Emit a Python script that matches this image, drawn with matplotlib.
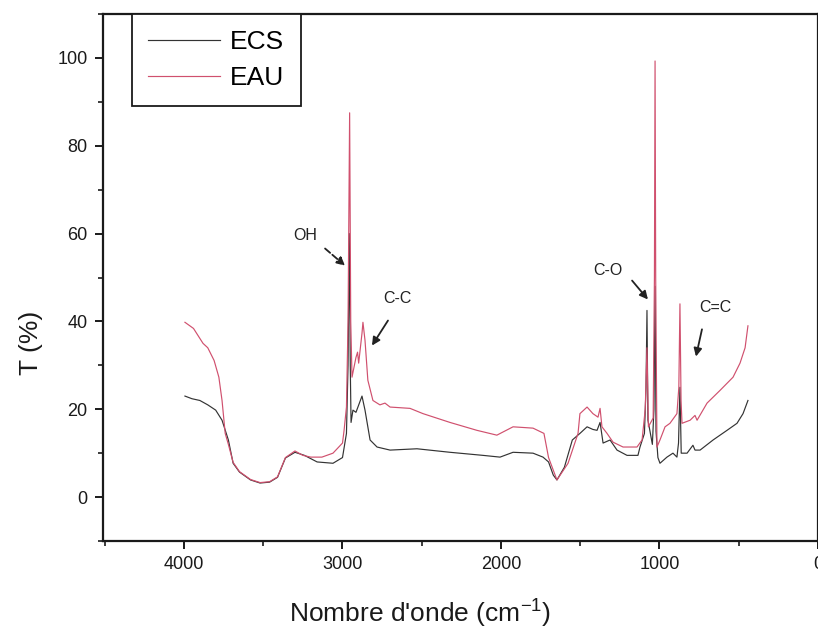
import numpy as np
import matplotlib
matplotlib.use('Agg')
import matplotlib.pyplot as plt
from matplotlib.ticker import MultipleLocator

plt.rcParams['font.family'] = ['Liberation Sans', 'DejaVu Sans']
plt.rcParams['mathtext.fontset'] = 'custom'
plt.rcParams['mathtext.rm'] = 'Liberation Sans'
plt.rcParams['mathtext.it'] = 'Liberation Sans'

# Spectre ECS (nombre d'onde cm-1, transmittance %)
ecs_wn = [3994, 3950, 3900, 3850, 3800, 3760, 3720, 3690, 3650, 3580, 3520, 3460,
          3410, 3360, 3300, 3240, 3160, 3060, 3000, 2975, 2965, 2957, 2951, 2946,
          2934, 2915, 2877, 2858, 2826, 2782, 2700, 2530, 2322, 2114, 2006, 1924,
          1798, 1735, 1700, 1670, 1647, 1600, 1550, 1502, 1457, 1420, 1394, 1375,
          1356, 1312, 1268, 1205, 1136, 1123, 1095, 1085, 1079, 1073, 1060, 1045,
          1035, 1028, 1022, 1010, 997, 953, 915, 890, 880, 871, 863, 850, 826,
          789, 776, 744, 662, 574, 511, 473, 442]
ecs_t = [23.0, 22.4, 22.0, 21.0, 19.8, 17.5, 13.0, 7.7, 5.7, 3.9, 3.2, 3.4,
         4.5, 8.9, 10.2, 9.5, 8.0, 7.7, 9.0, 14.5, 30.0, 60.0, 30.0, 17.0,
         19.8, 19.3, 23.0, 19.8, 13.0, 11.4, 10.7, 11.0, 10.2, 9.5, 9.1, 10.2,
         10.0, 9.1, 8.0, 5.0, 3.9, 6.8, 13.0, 14.5, 16.0, 15.4, 15.2, 17.0,
         12.3, 13.0, 10.7, 9.5, 9.5, 11.4, 14.5, 25.0, 42.5, 17.5, 15.0, 12.0,
         20.0, 48.0, 15.0, 9.0, 7.7, 9.1, 10.0, 9.1, 12.3, 25.0, 10.0, 10.0, 10.0,
         11.8, 10.7, 10.7, 13.0, 15.2, 16.8, 19.0, 22.0]

# Spectre EAU
eau_wn = [3994, 3940, 3880, 3850, 3810, 3780, 3760, 3740, 3720, 3690, 3650, 3580,
          3520, 3460, 3410, 3360, 3300, 3250, 3200, 3130, 3060, 3000, 2990, 2975,
          2965, 2955, 2948, 2940, 2915, 2905, 2898, 2877, 2871, 2858, 2840, 2808,
          2764, 2732, 2700, 2574, 2492, 2322, 2152, 2026, 1924, 1798, 1729, 1700,
          1647, 1577, 1514, 1502, 1457, 1420, 1388, 1375, 1363, 1331, 1293, 1230,
          1142, 1110, 1090, 1079, 1070, 1040, 1032, 1028, 1024, 1016, 997, 965,
          934, 890, 878, 871, 864, 858, 807, 776, 763, 700, 618, 536, 492, 460,
          442]
eau_t = [39.8, 38.4, 35.0, 34.0, 31.1, 27.3, 22.0, 14.5, 12.0, 7.9, 5.8, 4.0,
         3.3, 3.5, 4.6, 9.0, 10.5, 9.5, 9.1, 9.1, 10.0, 12.3, 15.2, 20.5,
         40.0, 87.5, 40.0, 27.3, 31.8, 33.0, 30.5, 37.3, 39.8, 35.7, 26.6, 22.0,
         21.0, 21.4, 20.5, 20.2, 19.0, 17.0, 15.2, 14.1, 16.0, 15.7, 14.5, 9.0,
         3.9, 7.7, 14.5, 19.0, 20.5, 19.0, 18.2, 20.2, 16.0, 14.5, 12.5, 11.4,
         11.4, 13.0, 20.0, 34.0, 16.0, 18.0, 50.0, 99.3, 50.0, 11.4, 13.0, 16.0,
         16.8, 19.0, 25.0, 44.0, 22.0, 16.8, 17.5, 18.6, 17.5, 21.4, 24.3, 27.3,
         30.5, 34.0, 39.0]

# Attribution des bandes : (texte, position du texte, pointe de la flèche)
band_labels = ['OH', 'C-C', 'C-O', 'C=C']
band_text_xy = [(3237, 59.5), (2656, 45.2), (1325, 51.6), (650, 43.2)]
band_tail_xy = [(3110, 56.6), (2713, 40.2), (1173, 49.3), (732, 38.2)]
band_head_xy = [(2984, 52.7), (2814, 34.5), (1073, 45.0), (770, 32.0)]
band_style = ['--', '-', '-', '-']

fig = plt.figure(figsize=(8.18, 6.32), dpi=100)
ax = fig.add_axes([103 / 818, 1 - 541 / 632, 715 / 818, 527 / 632])

ax.plot(ecs_wn, ecs_t, color='#333333', lw=0.85, label='ECS')
ax.plot(eau_wn, eau_t, color='#d0506e', lw=0.85, label='EAU')

for lab, txy, tail, head, ls in zip(band_labels, band_text_xy, band_tail_xy,
                                    band_head_xy, band_style):
    ax.text(txy[0], txy[1], lab, fontsize=11.5, ha='center', va='center',
            color='#222222')
    ax.annotate('', xy=head, xytext=tail,
                arrowprops=dict(arrowstyle='-|>', color='#222222', lw=1.3,
                                linestyle=ls, mutation_scale=12,
                                shrinkA=0, shrinkB=0))

ax.set_xlim(4511, 0)
ax.set_ylim(-10, 110)
ax.xaxis.set_major_locator(MultipleLocator(1000))
ax.xaxis.set_minor_locator(MultipleLocator(500))
ax.yaxis.set_major_locator(MultipleLocator(20))
ax.yaxis.set_minor_locator(MultipleLocator(10))
ax.set_yticks([0, 20, 40, 60, 80, 100])

for s in ax.spines.values():
    s.set_linewidth(1.6)
    s.set_color('#1a1a1a')
ax.tick_params(which='major', direction='out', length=6, width=1.4,
               labelsize=13, colors='#1a1a1a', pad=5)
ax.tick_params(which='minor', direction='out', length=3.5, width=1.2,
               colors='#1a1a1a')

ax.set_xlabel("Nombre d'onde (cm$^{-1}$)", fontsize=19, color='#1a1a1a')
ax.xaxis.set_label_coords((420 - 103) / 715, -0.108)
ax.set_ylabel('T (%)', fontsize=19, color='#1a1a1a')
ax.yaxis.set_label_coords(-0.084, (541 - 343) / 527)

leg = ax.legend(loc='upper left', bbox_to_anchor=((132 - 103) / 715, 1.0),
                borderaxespad=0, fontsize=19, handlelength=2.7,
                handletextpad=0.4, labelspacing=0.44, borderpad=0.62,
                fancybox=False, framealpha=1, edgecolor='#1a1a1a')
leg.get_frame().set_linewidth(1.3)

fig.savefig('out.png', dpi=100, facecolor='white')
